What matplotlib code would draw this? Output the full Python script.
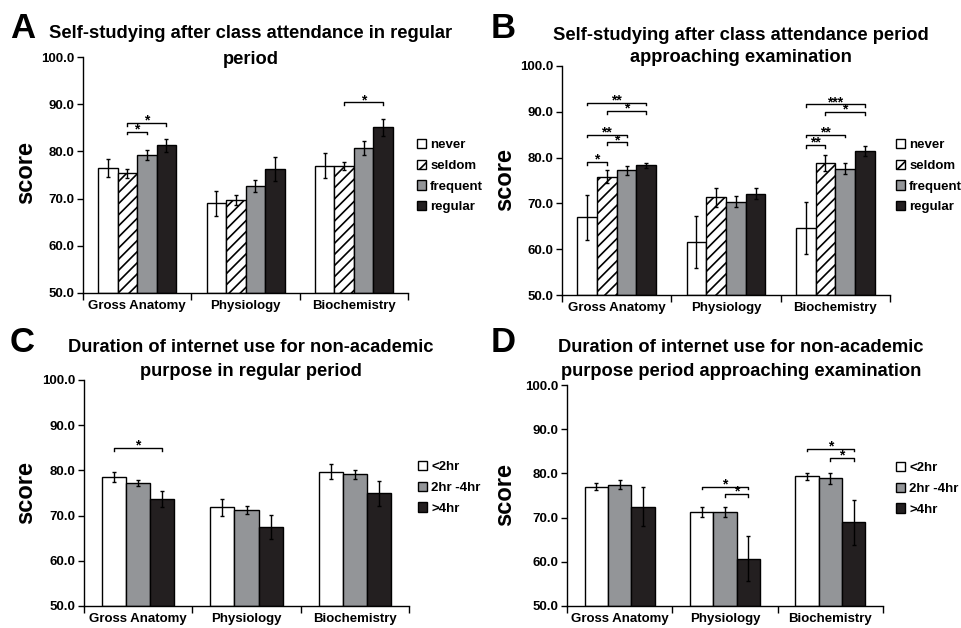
import matplotlib
matplotlib.use("Agg")
import matplotlib.pyplot as plt
import numpy as np

plt.rcParams['font.family'] = ['Liberation Sans', 'DejaVu Sans']
plt.rcParams['font.weight'] = 'bold'
plt.rcParams['hatch.linewidth'] = 1.2

subjects = ['Gross Anatomy', 'Physiology', 'Biochemistry']
study_labels = ['never', 'seldom', 'frequent', 'regular']
net_labels = ['<2hr', '2hr -4hr', '>4hr']

# means / errors per series (rows) across subjects (columns)
a_mean = [[76.4, 69.0, 77.0], [75.35, 69.7, 76.9], [79.3, 72.7, 80.8], [81.3, 76.3, 85.1]]
a_err = [[1.9, 2.6, 2.7], [0.9, 1.0, 0.9], [1.1, 1.2, 1.5], [1.4, 2.6, 1.8]]
b_mean = [[67.0, 61.6, 64.6], [75.8, 71.3, 78.8], [77.25, 70.35, 77.6], [78.3, 72.1, 81.5]]
b_err = [[4.9, 5.6, 5.7], [1.4, 2.0, 1.8], [0.95, 1.2, 1.2], [0.6, 1.2, 1.1]]
c_mean = [[78.5, 71.8, 79.7], [77.3, 71.2, 79.1], [73.7, 67.5, 74.9]]
c_err = [[1.1, 1.8, 1.7], [0.65, 0.9, 0.9], [1.8, 2.6, 2.7]]
d_mean = [[77.0, 71.3, 79.3], [77.4, 71.3, 78.9], [72.5, 60.7, 68.9]]
d_err = [[0.75, 1.1, 0.9], [1.0, 1.2, 1.3], [4.5, 5.1, 5.1]]

# significance brackets: (subject, bar i, bar j, level, label)
a_sig = [(0, 1, 2, 84.2, '*'), (0, 1, 3, 86.0, '*'), (2, 1, 3, 90.4, '*')]
b_sig = [(0, 0, 1, 79.0, '*'), (0, 1, 2, 83.3, '*'), (0, 0, 2, 85.0, '**'),
         (0, 1, 3, 90.2, '*'), (0, 0, 3, 92.0, '**'),
         (2, 0, 1, 82.8, '**'), (2, 0, 2, 85.0, '**'), (2, 1, 3, 89.9, '*'),
         (2, 0, 3, 91.6, '***')]
c_sig = [(0, 0, 2, 85.0, '*')]
d_sig = [(1, 0, 2, 77.0, '*'), (1, 1, 2, 75.3, '*'), (2, 0, 2, 85.6, '*'),
         (2, 1, 2, 83.5, '*')]

W, H = 961, 628
fig = plt.figure(figsize=(W / 100, H / 100), dpi=100)


def px(x, y):
    return x / W, 1 - y / H


def panel(rect, means, errs, labels, styles, width, sig, title, tpos, letter, lpos, ypos, legpos):
    x0, y0, x1, y1 = rect
    ax = fig.add_axes([x0 / W, 1 - y1 / H, (x1 - x0) / W, (y1 - y0) / H])
    n = len(means)
    x = np.arange(len(subjects))
    centers = []
    for k in range(n):
        off = (k - (n - 1) / 2) * width
        fc, hatch = styles[k]
        ax.bar(x + off, np.array(means[k]) - 50, width, bottom=50, color=fc,
               edgecolor='black', linewidth=1.0, hatch=hatch, label=labels[k], zorder=2)
        ax.errorbar(x + off, means[k], yerr=errs[k], fmt='none', ecolor='black',
                    elinewidth=1.0, capsize=1.5, capthick=1.0, zorder=3)
        centers.append(x + off)
    for s, i, j, lev, lab in sig:
        xa, xb = centers[i][s], centers[j][s]
        ax.plot([xa, xa, xb, xb], [lev - 0.6, lev, lev, lev - 0.6], color='black', lw=1.0,
                clip_on=False, zorder=4)
        ax.text((xa + xb) / 2, lev - 1.0, lab, ha='center', va='bottom', fontsize=10,
                fontweight='bold')
    ax.set_xlim(-0.5, 2.5)
    ax.set_ylim(50, 100)
    ax.set_yticks(np.arange(50, 101, 10))
    ax.set_yticklabels(['%.1f' % v for v in np.arange(50, 101, 10)], fontsize=9.5, fontweight='bold')
    ax.set_xticks([-0.5, 0.5, 1.5, 2.5])
    ax.set_xticklabels([])
    ax.set_xticks(x, minor=True)
    ax.set_xticklabels(subjects, minor=True, fontsize=9.5, fontweight='bold')
    ax.tick_params(axis='x', which='minor', length=0, pad=5)
    ax.tick_params(axis='x', which='major', length=5, width=1.0, direction='out')
    ax.tick_params(axis='y', length=4, width=1.0, direction='out', pad=2)
    for sp in ['top', 'right']:
        ax.spines[sp].set_visible(False)
    for sp in ['left', 'bottom']:
        ax.spines[sp].set_linewidth(1.0)
    # title lines drawn separately
    tcx, ty1, ty2 = tpos
    for line, ty in zip(title, (ty1, ty2)):
        fx, fy = px(tcx, ty)
        fig.text(fx, fy, line, ha='center', va='center', fontsize=13.2, fontweight='bold')
    lx, ly = px(*lpos)
    fig.text(lx, ly, letter, ha='left', va='center', fontsize=25, fontweight='bold')
    yx, yy = px(*ypos)
    fig.text(yx, yy, 'score', ha='center', va='center', rotation=90, fontsize=17,
             fontweight='bold')
    gx, gy = px(*legpos)
    ax.legend(loc='upper left', bbox_to_anchor=(gx, gy), bbox_transform=fig.transFigure,
              frameon=False, handlelength=0.7, handleheight=0.7,
              handletextpad=0.3, labelspacing=0.64, borderpad=0, borderaxespad=0,
              prop={'weight': 'bold', 'size': 9.5})
    return ax


study_styles = [('white', None), ('white', '///'), ('#939598', None), ('#231f20', None)]
net_styles = [('white', None), ('#939598', None), ('#231f20', None)]

panel((83, 57, 408, 293), a_mean, a_err, study_labels, study_styles, 0.18, a_sig,
      ['Self-studying after class attendance in regular', 'period'], (251, 34, 59),
      'A', (10, 28), (26, 173), (417, 139))
panel((562, 66, 890, 295), b_mean, b_err, study_labels, study_styles, 0.18, b_sig,
      ['Self-studying after class attendance period', 'approaching examination'], (741, 35, 58),
      'B', (491, 28), (505, 180), (896, 139))
panel((84, 380, 409, 606), c_mean, c_err, net_labels, net_styles, 0.222, c_sig,
      ['Duration of internet use for non-academic', 'purpose in regular period'], (251, 348, 371),
      'C', (10, 342), (26, 492), (418, 461))
panel((567, 385, 883, 606), d_mean, d_err, net_labels, net_styles, 0.222, d_sig,
      ['Duration of internet use for non-academic', 'purpose period approaching examination'],
      (741, 348, 371),
      'D', (491, 342), (505, 495), (896, 462))

fig.savefig('out.png', dpi=100)
